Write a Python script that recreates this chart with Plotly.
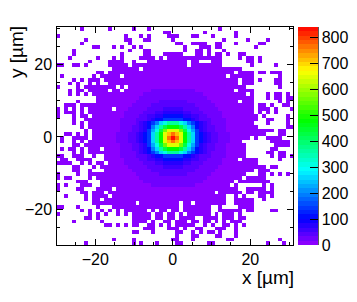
import plotly.graph_objects as go

level_codes = "abcdefghijklmnopqrstuvw"
level_values = [4, 8, 18, 28, 38, 48, 62, 80, 108, 150, 195, 230, 255, 305, 365, 425, 475, 570, 650, 715, 770, 810, 845]
x_ticks = [-20, 0, 20]
y_ticks = [-20, 0, 20]
cbar_ticks = [0, 100, 200, 300, 400, 500, 600, 700, 800]
x_label = "x [µm]"
y_label = "y [µm]"

# One string per row of bins from the top down: left 9 bins, middle 41 bins, right 10 bins.
rows = [
 ("......a..", "....a.....a...a.................a........", ".........."),
 (".........", "..................aa........a.......a....", ".........."),
 ("a........", "........a...a.a....aaa...aa...a.....a....", ".........."),
 (".......a.", "........aa...aa.....a............a.....a.", "...a......"),
 ("......a..", ".........a...........aa..aaaa..aa...a....", ".aa......."),
 (".........", "aa...a.a..a.a..........a...aaa.aa........", "a........."),
 ("....a....", ".........a...aa........a..aa.a...a.......", ".........."),
 ("....a....", ".......a.....aa...aaaaa...aa.a.aa.a..aa..", ".........."),
 ("...a.....", ".a...a.a....aaaa.a.aaaaaaaaaaaaaa....a.aa", ".a........"),
 ("........a", "....aaaa..a...aaaaaaaaaa.aa...aaa......aa", ".a........"),
 ("aa..aa.a.", "....aaaaa.aaaaaaaaaaaaaa.aaaaaaaa.......a", ".....a...."),
 (".........", ".....aaaaaaa.aaaaaaaaaaaaaaaaaaaaaaaaa...", ".........."),
 (".........", ".aa.aaaaaaaaaaaaaaaaaaaaaaaaaaaaaaaa.aaaa", ".aa.aaa..."),
 (".a.......", "a.aaaaa.aaaaaaaaaaaabaaaaaaaaaaaaa.aaaaaa", "......a..."),
 ("....a.a.a", "aa.aaaaaaaaaaaabbbbbbbbbbbaaaaaaaaaaa.aaa", ".a...aa..."),
 ("...a.a..a", ".a..aaaaaaaabbbbbbbbbbbbbbbbbaaaaaaaa.aaa", ".....aa..."),
 ("a....a.aa", "aaaaaa.a.aabbbbbbbbbbbbbbbbbbbaaaaaaaaa..", "......a..."),
 ("...a.aa.a", "aaaa.aa.abbbbbbcccccccccccbbbbbbaaaa.aaaa", ".........."),
 ("...a.a.a.", "aaaaaaaabbbbbcccccccccccccccbbbbbaaaaaa.a", "...a.aa.a."),
 (".........", ".aaaaaabbbbbccccdddddddddccccbbbbbaaaaaaa", "...a.aa.aa"),
 (".....a...", ".aaaaaabbbbcccdddeeeeeeedddcccbbbbaaa.aaa", "......a.a."),
 ("..aaa.aaa", "aaaaaabbbbcccddeefffffffeeddcccbbbbaaaaaa", ".aa.a..aa."),
 ("a.a.a.a.a", "aaaaa.bbbcccddefffgggggfffeddcccbbbbaaaaa", ".aaa.a...a"),
 ("a.aaa.a.a", "aaaaabbbcccddeffgghhhhhggffeddcccbbbaaaaa", ".a.a.a...."),
 ("a...a.aa.", "aaaaabbbccddefgghhiiiiihhggfeddccbbbaaaaa", "a.a.....a."),
 ("....a..aa", "aaaabbbcccdeffghiijjjjjiihgffedcccbbbaaaa", "a..aa...a."),
 ("....a.a.a", "aaaabbbccddfghijkmnooonmkjihgfddccbbbaaaa", "...a....a."),
 ("......a.a", "aaabbbbccdefghikmopqqqpomkihgfedccbbbbaaa", "a.......aa"),
 (".......a.", "aaabbbbccdefghjlnprsssrpnljhgfedccbbbbaaa", "aaaaa.aa.."),
 ("..aa.a.a.", "aabbbbccdefghijmoqstutsqomjihgfedccbbbbaa", "aaa...aa.."),
 (".a..aaaa.", "aabbbbccdefghijmoqsuwusqomjihgfedccbbaaa.", "a..aaaa..."),
 (".a..a.a.a", "aabbbbccdefghijmoqstutsqomjihgfedccbbb...", "....aaaaa."),
 ("....aa.aa", "aaabbbbccdefghjlnprsssrpnljhgfedccbbbba..", ".....aaaa."),
 (".a.aa.a.a", "aa.bbbbccdefghikmopqqqpomkihgfedccbbbba..", "....aa...."),
 ("....a.a.a", "aaaabbbccddfghijkmnooonmkjihgfddccbbbaa..", "...aa.aa.."),
 ("aa..aaa..", "a..abbbcccdeffghiijjjjjiihgffedcccbbbaa..", "....a.aa.a"),
 (".aa..aaaa", "...aabbbccddefgghhiiiiihhggfeddccbbba.aaa", "a.....a..."),
 ("aaaa..a.a", ".aa.abbbcccddeffgghhhhhggffeddcccbbbaaaaa", "a........."),
 ("....aa...", "a.aaabbbbcccddefffgggggfffeddcccbbbbaaaaa", "aaa.aa...."),
 ("....aa..a", "...aaabbbbcccddeefffffffeeddcccbbbbaaaaaa", ".aaa......"),
 ("a....a..a", "aaaaaaabbbbcccdddeeeeeeedddcccbbbbaaaaa..", ".aa.a.a.a."),
 ("a.aa....a", ".aaaaaabbbbbccccdddddddddccccbbbbbaaaa.aa", "aaa......."),
 (".....aaa.", "..aaaaaabbbbbcccccccccccccccbbbbbaaa.aaaa", "aaaa......"),
 ("a.a...aaa", "..aaaaaaabbbbbbcccccccccccbbbbbbaaa.a....", "..a.a....."),
 ("a....aa..", ".aaaa.aaaaabbbbbbbbbbbbbbbbbbbaaaaaaa..aa", "aaa.a....."),
 ("......aa.", "aaa.aaaaaaaabbbbbbbbbbbbbbbbbaa.aaaaaa.aa", ".aaaa....."),
 ("..a....a.", "aaaa.aaaaaaaaaabbbbbbbbbbbaaaaaaaa..a.a..", ".aa.a....."),
 (".......a.", "aa.aaaaaaaaaaaaaaaaabaaaaaaaaaaaaa..aaaaa", "..a......."),
 (".........", "aaaaaaaaaaa.aaaaaaaaaa.aa.aaaaaaaa..aaaaa", ".........."),
 ("aa...a...", ".a...aaaaaaaaaaaaaaaaa.aaaaaaa..a....aaaa", ".........."),
 ("......a.a", "..a.a.a.aaaaaa.a.aa.aa.aaaaaaa..aaaaaa.aa", "....aa...."),
 ("a.......a", ".a.a..a.a.aaaaa.aa.aa.a.aaaaaa.a.aaa.a...", ".........."),
 (".......aa", ".a........aaaaa.aa.aa.aaaa..aaaa.aaa.aa..", ".........."),
 ("....a....", "..a.......aaaa.a..aa.aaa.aa.aa.a.a.aaa...", ".........."),
 (".........", "...aa.a.a.aa..aa.a.a.aaaaa..a.a..aa.a.a..", ".........."),
 (".........", ".............aaa...aaa.a..aa...aaa..a....", ".........."),
 (".........", "..........aa...a.....aa..a.a.aa.a...a....", ".........."),
 (".........", ".....................a...aa....aa...a....", ".........."),
 (".........", ".....a....a.........aa...a........aa.....", "......a..."),
 (".......a.", "..........a.a...a....aa......aa..........", "...a...a.."),
]

lookup = dict(zip(level_codes, level_values))
z = []
for left, mid, right in rows:
    text = left.ljust(9, ".")[:9] + mid.ljust(41, ".")[:41] + right.ljust(10, ".")[:10]
    z.append([lookup.get(ch) for ch in text])

x_min, x_max = -30.0, 31.0
y_min, y_max = -29.8, 30.3
x_step = (x_max - x_min) / 60
y_step = (y_max - y_min) / 60
x_centres = [x_min + x_step * (i + 0.5) for i in range(60)]
y_centres = [y_max - y_step * (j + 0.5) for j in range(60)]

W, H = 357, 302
L, R, T, B = 56.5, 293.0, 27.0, 245.0
CB_L, CB_R = 298, 318

stops = [
    (0.0, (150, 0, 255)),
    (0.12, (0, 0, 255)),
    (0.345, (0, 255, 255)),
    (0.57, (0, 255, 0)),
    (0.8, (255, 255, 0)),
    (1.0, (255, 0, 0)),
]


def colour_at(t):
    for (t0, c0), (t1, c1) in zip(stops, stops[1:]):
        if t <= t1:
            f = (t - t0) / (t1 - t0)
            return "rgb(%d,%d,%d)" % tuple(round(a + (b - a) * f) for a, b in zip(c0, c1))
    return "rgb(255,0,0)"


BANDS = 50
colour_scale = []
for n in range(BANDS):
    c = colour_at((n + 0.5) / BANDS)
    colour_scale += [[n / BANDS, c], [(n + 1) / BANDS, c]]

font = dict(family="Liberation Sans, Arial, sans-serif", size=16, color="black")
title_font = dict(family=font["family"], size=19, color="black")

fig = go.Figure(go.Heatmap(
    x=x_centres, y=y_centres, z=z, zmin=0, zmax=840,
    colorscale=colour_scale, hoverongaps=False,
    colorbar=dict(
        x=CB_L / W, xanchor="left", xpad=0,
        y=(H - B) / H, yanchor="bottom", ypad=0,
        lenmode="fraction", len=(B - T) / H,
        thicknessmode="pixels", thickness=CB_R - CB_L,
        outlinewidth=0, ticks="inside", ticklen=8, tickwidth=1, tickcolor="black",
        tickvals=cbar_ticks, tickfont=font,
    ),
))

axis = dict(
    showgrid=False, zeroline=False, showline=True, linecolor="black",
    linewidth=1.3, mirror="allticks", ticks="inside", ticklen=6, tickwidth=1,
    tickcolor="black", tickfont=font,
    minor=dict(dtick=5, ticks="inside", ticklen=3, tickwidth=1, tickcolor="black", showgrid=False),
)
fig.update_layout(
    width=W, height=H, margin=dict(l=0, r=0, t=0, b=0),
    paper_bgcolor="white", plot_bgcolor="white", showlegend=False,
    xaxis=dict(axis, range=[x_min, x_max], domain=[L / W, R / W], tickvals=x_ticks),
    yaxis=dict(axis, range=[y_min, y_max], domain=[1 - B / H, 1 - T / H], tickvals=y_ticks),
    annotations=[
        dict(text=x_label, xref="paper", yref="paper", x=R / W, y=1 - 277 / H,
             xanchor="right", yanchor="middle", xshift=3, showarrow=False, font=title_font),
        dict(text=y_label, xref="paper", yref="paper", x=16 / W, y=1 - T / H,
             xanchor="center", yanchor="top", yshift=3, textangle=-90, showarrow=False, font=title_font),
    ],
    shapes=[dict(type="line", xref="paper", yref="paper", x0=CB_R / W, x1=CB_R / W,
                 y0=1 - B / H, y1=1 - T / H, line=dict(color="black", width=1.3))],
)
fig.write_html("out.html", config=dict(displayModeBar=False),
               post_script="document.body.style.margin='0';document.body.style.overflow='hidden';")
